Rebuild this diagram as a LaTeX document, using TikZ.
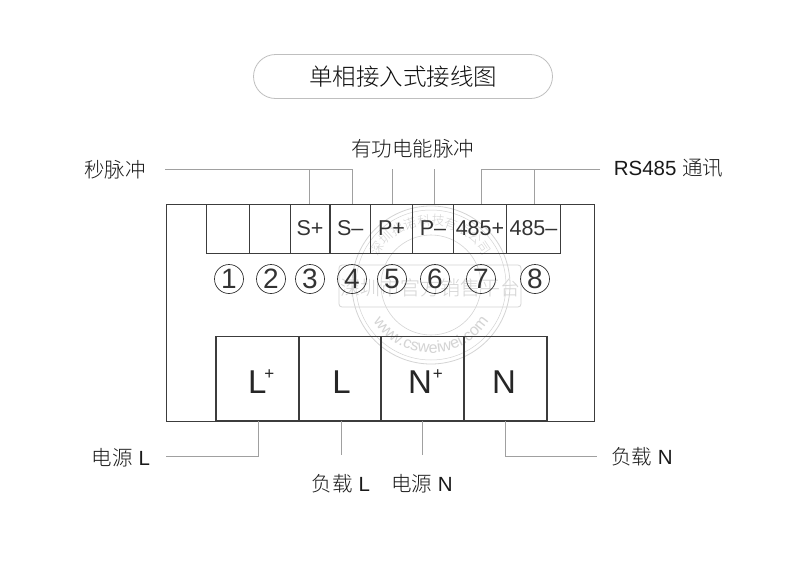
\documentclass[tikz,border=0pt]{standalone}
\usepackage{fontspec}
\setmainfont{Liberation Sans}
\newfontfamily\cjk{Noto Sans CJK SC Light}
\usetikzlibrary{decorations.text}
\definecolor{ln}{HTML}{3C3C3C}
\definecolor{ld}{HTML}{A0A0A0}
\definecolor{wm}{HTML}{D4D4D4}
\newcommand{\supplus}{\kern-2pt\raisebox{14pt}{\fontsize{17}{17}\selectfont+}}
\tikzset{
 x=1pt,y=-1pt,
 cell/.style={draw=ln,line width=1pt,minimum width=#1,minimum height=49pt,inner sep=0pt,font=\fontsize{21.5}{21}\selectfont,text=black!80},
 term/.style={draw=ln,line width=1.3pt,minimum width=#1,minimum height=83.5pt,inner sep=0pt,text height=29pt,text depth=0pt,font=\fontsize{33}{33}\selectfont,text=black!85},
 lead/.style={draw=ld,line width=1pt},
 lab/.style={inner sep=0pt,font=\fontsize{20.5}{21}\selectfont,text=black!90},
 num/.style={circle,draw=black!80,line width=.7pt,minimum size=29pt,inner sep=0pt,font=\fontsize{28}{28}\selectfont,text=black!80},
 wmt/.style={text=wm,inner sep=0pt},
}
\begin{document}
\begin{tikzpicture}
\useasboundingbox[fill=white] (0,0) rectangle (806,560);
% watermark
\draw[wm,line width=.8pt] (431,285) circle (79);
\draw[wm,line width=.5pt] (431,285) circle (75);
\draw[wm,line width=.6pt] (431,285) circle (50);
\draw[wm,line width=.8pt,rounded corners=3pt] (339,265) rectangle (521,307);
\node[wmt,font=\fontsize{20}{20}\cjk] (wmc) at (430,288) {深圳市官方销售平台};
\path[decorate,decoration={text along path,text={|\fontsize{16}{16}\selectfont\color{wm}|www.csweiwei.com},text align=center,reverse path}] (492.6,313.7) arc[start angle=25,end angle=155,radius=68];
\path[decorate,decoration={text along path,text={|\fontsize{13}{13}\cjk\color{wm}|深圳拙诺科技有限公司},text align=center}] (374.6,264.5) arc[start angle=200,end angle=340,radius=60];
% outer box
\node[draw=ln,line width=1pt,minimum width=428pt,minimum height=217pt,inner sep=0pt] (outer) at (380,312.5) {};
% title
\node[draw=black!25,line width=.8pt,rounded corners=22pt,minimum width=299pt,minimum height=44pt,inner sep=0pt,font=\fontsize{23.5}{24}\cjk,text=black!95] (title) at (403,76.5) {单相接入式接线图};
% top cells
\node[cell=42.3pt] (c1) at (228,228.5) {};
\node[cell=41pt] (c2) at (269.5,228.5) {};
\node[cell=40pt] (c3) at (310,228.5) {S+};
\node[cell=40.5pt] (c4) at (350.2,228.5) {S–};
\node[cell=42.5pt] (c5) at (391.5,228.5) {P+};
\node[cell=40.5pt] (c6) at (433,228.5) {P–};
\node[cell=53.5pt] (c7) at (480,228.5) {485+};
\node[cell=53.5pt] (c8) at (533.5,228.5) {485–};
% numbers
\node[num] (n1) at (229,279) {1};
\node[num] (n2) at (271,279) {2};
\node[num] (n3) at (310,279) {3};
\node[num] (n4) at (352,279) {4};
\node[num] (n5) at (392,279) {5};
\node[num] (n6) at (435,279) {6};
\node[num] (n7) at (481,279) {7};
\node[num] (n8) at (535,279) {8};
% terminals
\node[term=83pt,text width=83pt,align=left] (t1) at (257.5,378.5) {\hspace{32pt}L\supplus};
\node[term=82pt] (t2) at (340,378.5) {\hspace{3pt}L};
\node[term=83pt,text width=83pt,align=left] (t3) at (422.5,378.5) {\hspace{27pt}N\kern3pt\supplus};
\node[term=83pt] (t4) at (505.5,378.5) {\hspace{-3pt}N};
% labels
\node[lab] (l1) at (115,170) {\cjk 秒脉冲};
\node[lab] (l2) at (412.5,149) {\cjk 有功电能脉冲};
\node[lab] (l3) at (668.5,168) {RS485 {\cjk 通讯}};
\node[lab] (l4) at (121,458) {{\cjk 电源} L};
\node[lab] (l5) at (341,483.5) {{\cjk 负载} L};
\node[lab] (l6) at (422,483.5) {{\cjk 电源} N};
\node[lab] (l7) at (642,457) {{\cjk 负载} N};
% leads
\coordinate (a0) at (165,169);
\coordinate (a1) at (309,169);
\coordinate (a2) at (352,169);
\coordinate (a3) at (392,169);
\coordinate (a4) at (434,169);
\coordinate (a5) at (481,169);
\coordinate (a6) at (534,169);
\coordinate (a7) at (600,169);
\draw[lead] (a0) -- (a2) -- (a2|-c4.north);
\draw[lead] (a1) -- (a1|-c3.north);
\draw[lead] (a3) -- (a3|-c5.north);
\draw[lead] (a4) -- (a4|-c6.north);
\draw[lead] (a7) -- (a5) -- (a5|-c7.north);
\draw[lead] (a6) -- (a6|-c8.north);
\coordinate (b1) at (258,456);
\coordinate (b2) at (341,455);
\coordinate (b3) at (422,455);
\coordinate (b4) at (505,456);
\draw[lead] (b1|-t1.south) -- (b1) -- (166,456);
\draw[lead] (b2|-t2.south) -- (b2);
\draw[lead] (b3|-t3.south) -- (b3);
\draw[lead] (b4|-t4.south) -- (b4) -- (597,456);
\end{tikzpicture}
\end{document}
